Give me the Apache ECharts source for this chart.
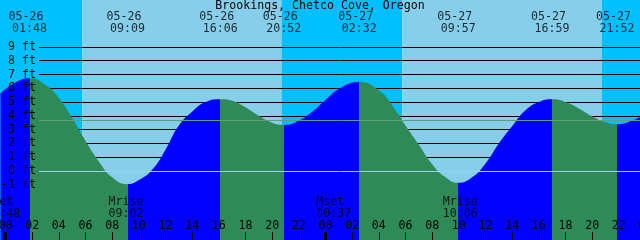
<!DOCTYPE html>
<html><head><meta charset="utf-8">
<script src="https://cdn.jsdelivr.net/npm/echarts@6/dist/echarts.min.js"></script>
<style>html,body{margin:0;padding:0;background:#fff}#c{width:640px;height:240px}</style>
</head><body><div id="c"></div>
<script>
// ---- data ----
const chartTitle = 'Brookings, Chetco Cove, Oregon';
// hours counted from 05-26 00:00, tide heights in feet
const tideHours = [-0.375, 0, 1, 1.8, 3, 4, 5, 6, 7, 8, 9.15, 10, 11, 12, 13, 14, 15, 16.1, 17, 18, 19, 20, 20.87, 22, 23, 24, 25, 26.53, 28, 29, 30, 31, 32, 33, 33.95, 35, 36, 37, 38, 39, 40, 40.98, 42, 43, 44, 45, 45.87, 47, 47.625];
const tideFeet  = [5.6, 5.95, 6.55, 6.73, 6.25, 5.3, 3.85, 2.2, 0.7, -0.45, -0.95, -0.65, 0.1, 1.55, 3.3, 4.3, 5.0, 5.21, 5.1, 4.62, 4.0, 3.5, 3.35, 3.65, 4.3, 5.15, 5.95, 6.46, 5.85, 4.75, 3.3, 1.9, 0.5, -0.45, -0.85, -0.45, 0.55, 2.0, 3.25, 4.4, 5.0, 5.2, 5.01, 4.54, 3.97, 3.54, 3.4, 3.65, 3.95];
const eventDates = ['05-26', '05-26', '05-26', '05-26', '05-27', '05-27', '05-27', '05-27'];
const eventTimes = ['01:48', '09:09', '16:06', '20:52', '02:32', '09:57', '16:59', '21:52'];
const eventKinds = ['high', 'low', 'high', 'low', 'high', 'low', 'high', 'low'];
const moonNames = ['Mset', 'Mrise', 'Mset', 'Mrise'];
const moonTimes = ['23:48', '09:02', '00:37', '10:06'];
const moonDayOffsets = [-1, 0, 1, 1];
const skyStarts = [-24, 5.77, 20.7, 29.76, 44.71];
const skyEnds = [5.77, 20.7, 29.76, 44.71, 48];
const skyKinds = ['night', 'day', 'night', 'day', 'night'];
const levelLines = [0, 3.67];          // datum and mean level, ft
const hourTickStep = 2;

// ---- styling ----
const FONT = 'DejaVu Sans Mono';
const FS = 11.6;
const C_NIGHT = '#00BFFF', C_DAY = '#87CEEB';
const C_FLOOD = '#0000FF', C_EBB = '#2E8B57';
const levelColors = ['#96d4ea', '#5b9f80'];
const X_MIN = -24, X_MAX = 48, Y_MIN = -5, Y_MAX = 12.4;

function toHour(dayOffset, hhmm) {
  const [h, m] = hhmm.split(':').map(Number);
  return dayOffset * 24 + h + m / 60;
}
const eventHours = eventTimes.map((t, i) => toHour(eventDates[i] === '05-26' ? 0 : 1, t));
const moonHours = moonTimes.map((t, i) => toHour(moonDayOffsets[i], t));

const pieces = [];
let prev = X_MIN - 10;
eventHours.forEach((h, i) => {
  pieces.push({ gte: prev, lt: h, color: eventKinds[i] === 'high' ? C_FLOOD : C_EBB });
  prev = h;
});
pieces.push({ gte: prev, lte: X_MAX + 10, color: eventKinds[eventKinds.length - 1] === 'low' ? C_FLOOD : C_EBB });

const chart = echarts.init(document.getElementById('c'), null, { renderer: 'canvas' });
const txt = { fontFamily: FONT, fontSize: FS, color: '#000' };

chart.setOption({
  animation: false,
  title: { text: chartTitle, left: 'center', top: 0, padding: 0,
    textStyle: Object.assign({ fontWeight: 'normal', lineHeight: 12 }, txt) },
  grid: [
    { left: -314.5, right: -5.5, top: 0, bottom: 0, outerBoundsMode: 'none', containLabel: false },
    { left: 39, right: 0, top: 46.9, bottom: 55.17, outerBoundsMode: 'none', containLabel: false }
  ],
  xAxis: [
    { gridIndex: 0, type: 'value', min: X_MIN, max: X_MAX, interval: hourTickStep, position: 'bottom', z: 10,
      axisLine: { show: false, onZero: false }, splitLine: { show: false },
      axisTick: { inside: true, length: 8, lineStyle: { color: '#000', width: 1 } },
      axisLabel: Object.assign({ inside: true, margin: 20, verticalAlign: 'top', lineHeight: 12,
        formatter: v => String(((v % 24) + 24) % 24).padStart(2, '0') }, txt) },
    { gridIndex: 0, type: 'value', min: X_MIN, max: X_MAX, interval: 24, position: 'bottom', z: 10,
      axisLine: { show: false, onZero: false }, splitLine: { show: false },
      axisTick: { inside: true, length: 8, lineStyle: { color: '#000', width: 3 } },
      axisLabel: { show: false } },
    { gridIndex: 1, type: 'value', min: X_MIN, max: X_MAX, position: 'bottom', show: false,
      axisLine: { onZero: false } }
  ],
  yAxis: [
    { gridIndex: 0, type: 'value', min: Y_MIN, max: Y_MAX, show: false, axisLine: { onZero: false } },
    { gridIndex: 1, type: 'value', min: -1, max: 9, interval: 1, position: 'left', z: 1,
      axisLine: { show: false, onZero: false }, axisTick: { show: false }, axisLabel: { show: false },
      splitLine: { show: true, lineStyle: { color: '#000', width: 1 } } },
    { gridIndex: 1, type: 'value', min: -1, max: 9, interval: 1, position: 'left', z: 10,
      axisLine: { show: false, onZero: false }, axisTick: { show: false }, splitLine: { show: false },
      axisLabel: Object.assign({ margin: 3, formatter: v => v + ' ft' }, txt) }
  ],
  visualMap: { type: 'piecewise', show: false, dimension: 0, seriesIndex: 1, pieces: pieces },
  series: [
    { type: 'custom', name: 'sky', xAxisIndex: 0, yAxisIndex: 0, z: 0, silent: true,
      data: skyStarts.map((s, i) => [s, skyEnds[i]]), encode: { x: [0, 1] },
      renderItem: (params, api) => {
        const p1 = api.coord([api.value(0), Y_MAX]);
        const p2 = api.coord([api.value(1), Y_MIN]);
        return { type: 'rect', shape: { x: p1[0], y: p1[1], width: p2[0] - p1[0], height: p2[1] - p1[1] },
          style: { fill: skyKinds[params.dataIndex] === 'day' ? C_DAY : C_NIGHT } };
      } },
    { type: 'line', name: 'tide', xAxisIndex: 0, yAxisIndex: 0, z: 2, silent: true,
      data: tideHours.map((h, i) => [h, tideFeet[i]]),
      smooth: 0.5, showSymbol: false, symbol: 'none',
      lineStyle: { width: 0, opacity: 0 },
      areaStyle: { opacity: 1, origin: 'start' } },
    { type: 'custom', name: 'levels', xAxisIndex: 2, yAxisIndex: 1, z: 3, silent: true,
      data: levelLines.map(v => [0, v]), encode: { x: 0, y: 1 },
      renderItem: (params, api) => {
        const y = Math.round(api.coord([0, api.value(1)])[1]) + 0.5;
        const cs = params.coordSys;
        return { type: 'line', shape: { x1: cs.x, y1: y, x2: cs.x + cs.width, y2: y },
          style: { stroke: levelColors[params.dataIndex], lineWidth: 1 } };
      } },
    { type: 'scatter', name: 'events', xAxisIndex: 0, yAxisIndex: 0, z: 10, silent: true,
      data: eventHours.map(h => [h, Y_MAX]), symbolSize: 1, itemStyle: { color: 'transparent' },
      label: Object.assign({ show: true, position: [0.5, 12], align: 'center', verticalAlign: 'top', lineHeight: 11.7,
        formatter: p => eventDates[p.dataIndex] + ' \n' + eventTimes[p.dataIndex] }, txt) },
    { type: 'scatter', name: 'moon', xAxisIndex: 0, yAxisIndex: 0, z: 10, silent: true,
      data: moonHours.map(h => [h, Y_MIN]), symbolSize: 1, itemStyle: { color: 'transparent' },
      label: Object.assign({ show: true, position: [0.5, -44], align: 'center', verticalAlign: 'top', lineHeight: 12,
        formatter: p => moonNames[p.dataIndex].padEnd(5, ' ') + '\n' + moonTimes[p.dataIndex] }, txt) }
  ]
});
</script>
</body></html>
